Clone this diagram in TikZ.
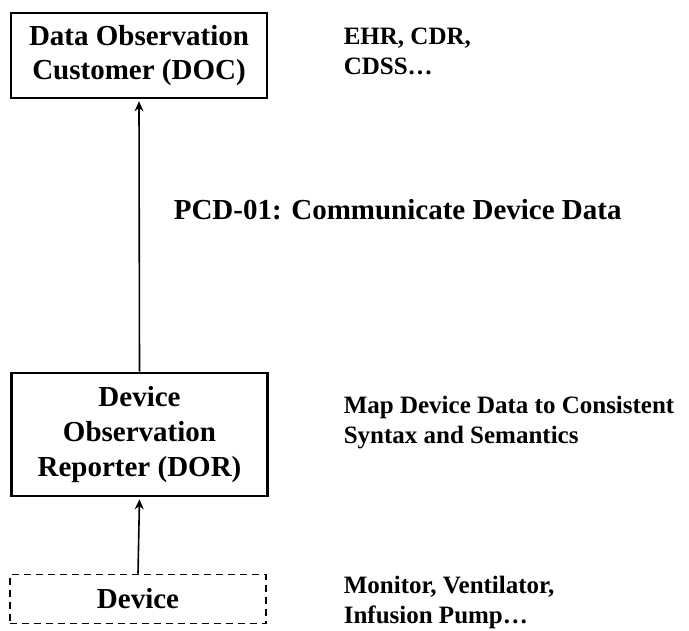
\documentclass[tikz,border=0pt]{standalone}
\usepackage{fontspec}
\setmainfont{Liberation Serif}
\usetikzlibrary{arrows.meta,positioning}

\begin{document}
\begin{tikzpicture}[x=1pt,y=-1pt,->,>={Stealth[length=10pt,width=9pt]},shorten >=2pt,line width=1.6pt,
    blok/.style={draw,solid,line width=2.6pt,minimum width=256pt,inner sep=0pt,align=center,font=\fontsize{29}{34}\selectfont\bfseries},
    note/.style={align=left,inner sep=0pt,anchor=base west,font=\fontsize{25}{30}\selectfont\bfseries}]
\useasboundingbox (0,0) rectangle (689,631);
%
   \node[blok,minimum height=85pt]          (DOC) at (139,55.5) {Data Observation\\Customer (DOC)};
   \node[blok,minimum height=123pt,font=\fontsize{29}{35}\selectfont\bfseries] (DOR) at (139.5,434.5) {Device\\Observation\\Reporter (DOR)};
   \node[blok,minimum height=49pt,dash pattern=on 7pt off 5pt,line width=1.6pt] (DEV) at (138,599) {Device};
   \node[note]  (T1) at (343,75) {EHR, CDR,\\CDSS\dots};
   \node[note]  (T2) at (343,443) {Map Device Data to Consistent\\Syntax and Semantics};
   \node[note]  (T3) at (343,623) {Monitor, Ventilator,\\Infusion Pump\dots};
   \node[note,font=\fontsize{29}{34}\selectfont\bfseries] (PCD) at (173,220) {PCD-01: Communicate Device Data};
   \path (DOR.north) edge (DOC.south);
   \path (DEV.north) edge (DOR.south);
\end{tikzpicture}
\end{document}
